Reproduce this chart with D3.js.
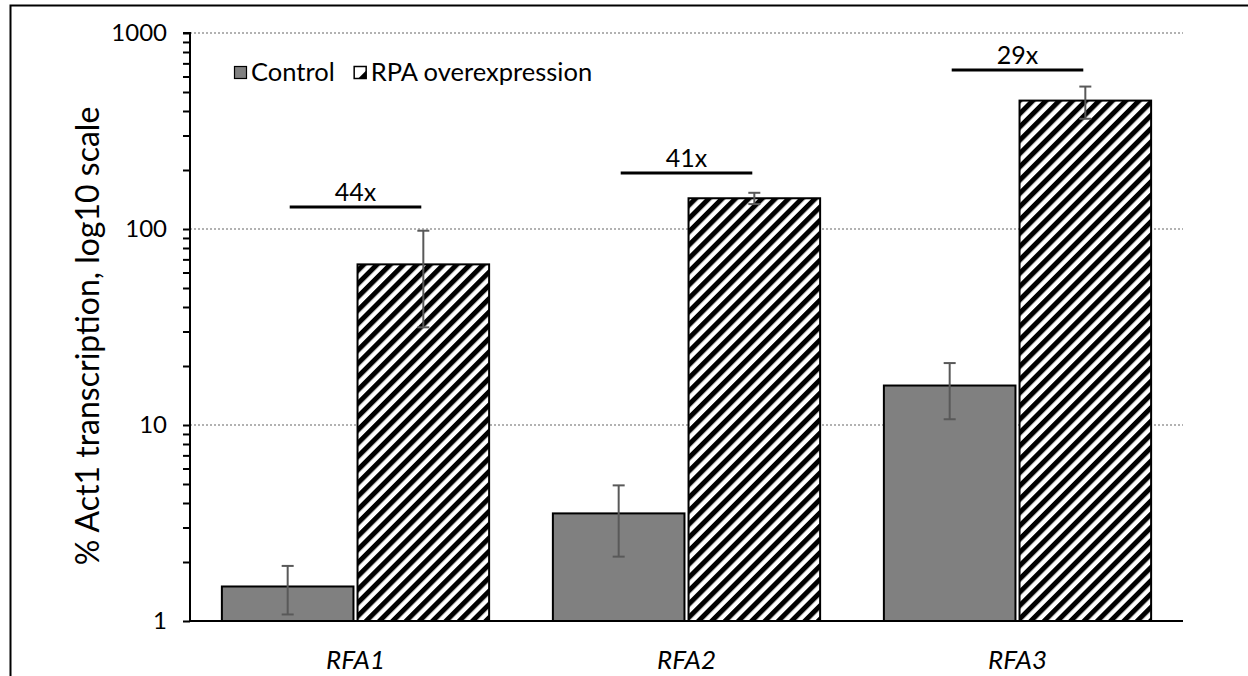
<!DOCTYPE html>
<html>
<head>
<meta charset="utf-8">
<script src="https://cdn.jsdelivr.net/npm/d3@7"></script>
<style>
  html, body { margin: 0; padding: 0; background: #fff; }
  svg { display: block; font-family: Lato, "Open Sans", sans-serif; }
</style>
</head>
<body>
<svg id="chart" width="1248" height="676"></svg>
<script>
// Genes on the x axis and the two conditions
const genes = ["RFA1", "RFA2", "RFA3"];
const series = ["Control", "RPA overexpression"];

// Mean % Act1 transcription per gene
const controlValues = [1.5, 3.54, 15.9];
const overValues = [66, 143.5, 452];

// Error bar extents (low, high)
const controlLow = [1.08, 2.13, 10.7];
const controlHigh = [1.91, 4.92, 20.7];
const overLow = [31.5, 134, 365];
const overHigh = [98, 153, 533];

// Fold-change annotations and the level of their brackets
const foldLabels = ["44x", "41x", "29x"];
const bracketLevels = [129.5, 193, 648];

// Axis ticks
const majorTicks = [1, 10, 100, 1000];

const svg = d3.select("#chart");
const plotLeft = 190, plotRight = 1183, plotTop = 33, plotBottom = 621;

// outer frame
svg.append("rect")
  .attr("x", 10.5).attr("y", 5.5)
  .attr("width", 1300).attr("height", 800)
  .attr("fill", "none").attr("stroke", "#000").attr("stroke-width", 2);

// hatch pattern for the overexpression bars
const defs = svg.append("defs");
const pat = defs.append("pattern")
  .attr("id", "hatch")
  .attr("patternUnits", "userSpaceOnUse")
  .attr("width", 9.4).attr("height", 9.4)
  .attr("patternTransform", "rotate(45)");
pat.append("rect").attr("width", 9.4).attr("height", 9.4).attr("fill", "#fff");
pat.append("rect").attr("x", 0).attr("width", 5).attr("height", 9.4).attr("fill", "#000");

const y = d3.scaleLog().domain([1, 1000]).range([plotBottom, plotTop]);
const x = d3.scaleBand().domain(genes).range([plotLeft, plotRight]);
const xs = d3.scaleBand().domain(series).range([0, x.bandwidth()])
  .paddingInner(0.03).paddingOuter(0.235);

// gridlines
svg.append("g").selectAll("line")
  .data(majorTicks.slice(1))
  .join("line")
  .attr("x1", plotLeft).attr("x2", plotRight)
  .attr("y1", d => y(d)).attr("y2", d => y(d))
  .attr("stroke", "#999").attr("stroke-width", 1.5)
  .attr("stroke-dasharray", "2,2");

// y axis with minor ticks
const allTicks = [];
for (let p = 1; p < 1000; p *= 10) for (let k = 1; k < 10; k++) allTicks.push(k * p);
allTicks.push(1000);
const yAxis = d3.axisLeft(y)
  .tickValues(allTicks)
  .tickSize(7)
  .tickPadding(16)
  .tickFormat(d => majorTicks.includes(d) ? String(d) : "");
const gy = svg.append("g").attr("transform", `translate(${plotLeft},0)`).call(yAxis);
gy.select(".domain").attr("stroke", "#000").attr("stroke-width", 2)
  .attr("d", `M-7,${plotTop}H0V${plotBottom}`);
gy.selectAll(".tick line").attr("stroke", "#000").attr("stroke-width", 2);
gy.selectAll(".tick text").attr("font-size", 24).attr("fill", "#000")
  .attr("font-family", "Lato, 'Open Sans', sans-serif");

// y axis title
svg.append("text")
  .attr("transform", "translate(99,336) rotate(-90)")
  .attr("text-anchor", "middle")
  .attr("font-size", 32)
  .text("% Act1 transcription, log10 scale");

// bars
const rows = genes.map((g, i) => [
  { gene: g, s: series[0], v: controlValues[i], lo: controlLow[i], hi: controlHigh[i] },
  { gene: g, s: series[1], v: overValues[i], lo: overLow[i], hi: overHigh[i] }
]).flat();

svg.append("g").selectAll("rect")
  .data(rows)
  .join("rect")
  .attr("x", d => x(d.gene) + xs(d.s))
  .attr("width", xs.bandwidth())
  .attr("y", d => y(d.v))
  .attr("height", d => y(1) - y(d.v))
  .attr("fill", d => d.s === series[0] ? "#808080" : "url(#hatch)")
  .attr("stroke", "#000").attr("stroke-width", 2);

// x axis baseline
svg.append("line")
  .attr("x1", plotLeft).attr("x2", plotRight)
  .attr("y1", plotBottom).attr("y2", plotBottom)
  .attr("stroke", "#000").attr("stroke-width", 2);

// error bars
const eb = svg.append("g").attr("stroke", "#595959").attr("stroke-width", 2);
rows.forEach(d => {
  const cx = x(d.gene) + xs(d.s) + xs.bandwidth() / 2;
  eb.append("line").attr("x1", cx).attr("x2", cx).attr("y1", y(d.lo)).attr("y2", y(d.hi));
  eb.append("line").attr("x1", cx - 6).attr("x2", cx + 6).attr("y1", y(d.lo)).attr("y2", y(d.lo));
  eb.append("line").attr("x1", cx - 6).attr("x2", cx + 6).attr("y1", y(d.hi)).attr("y2", y(d.hi));
});

// fold-change brackets
genes.forEach((g, i) => {
  const cx = x(g) + x.bandwidth() / 2;
  const by = y(bracketLevels[i]);
  svg.append("line")
    .attr("x1", cx - xs.bandwidth() / 2).attr("x2", cx + xs.bandwidth() / 2)
    .attr("y1", by).attr("y2", by)
    .attr("stroke", "#000").attr("stroke-width", 3);
  svg.append("text")
    .attr("x", cx).attr("y", by - 6)
    .attr("text-anchor", "middle")
    .attr("font-size", 25)
    .text(foldLabels[i]);
});

// category labels
svg.append("g").selectAll("text")
  .data(genes)
  .join("text")
  .attr("x", d => x(d) + x.bandwidth() / 2)
  .attr("y", 669)
  .attr("text-anchor", "middle")
  .attr("font-size", 26)
  .attr("font-style", "italic")
  .text(d => d);

// legend
const lg = svg.append("g").attr("transform", "translate(234,66)");
lg.append("rect").attr("x", 0.5).attr("y", 0.5).attr("width", 12).attr("height", 12)
  .attr("fill", "#808080").attr("stroke", "#000").attr("stroke-width", 1.2);
const t1 = lg.append("text").attr("x", 17).attr("y", 15).attr("font-size", 25.5).text(series[0]);
const w1 = t1.node().getComputedTextLength();
const ox = 17 + w1 + 19;
lg.append("rect").attr("x", ox + 0.5).attr("y", 0.5).attr("width", 12).attr("height", 12)
  .attr("fill", "#fff").attr("stroke", "#000").attr("stroke-width", 1.5);
lg.append("path")
  .attr("d", `M${ox + 12.5},${4.5}L${ox + 12.5},${12.5}L${ox + 4.5},${12.5}Z`)
  .attr("fill", "#000");
lg.append("text").attr("x", ox + 17).attr("y", 15).attr("font-size", 25.5).text(series[1]);
</script>
</body>
</html>
